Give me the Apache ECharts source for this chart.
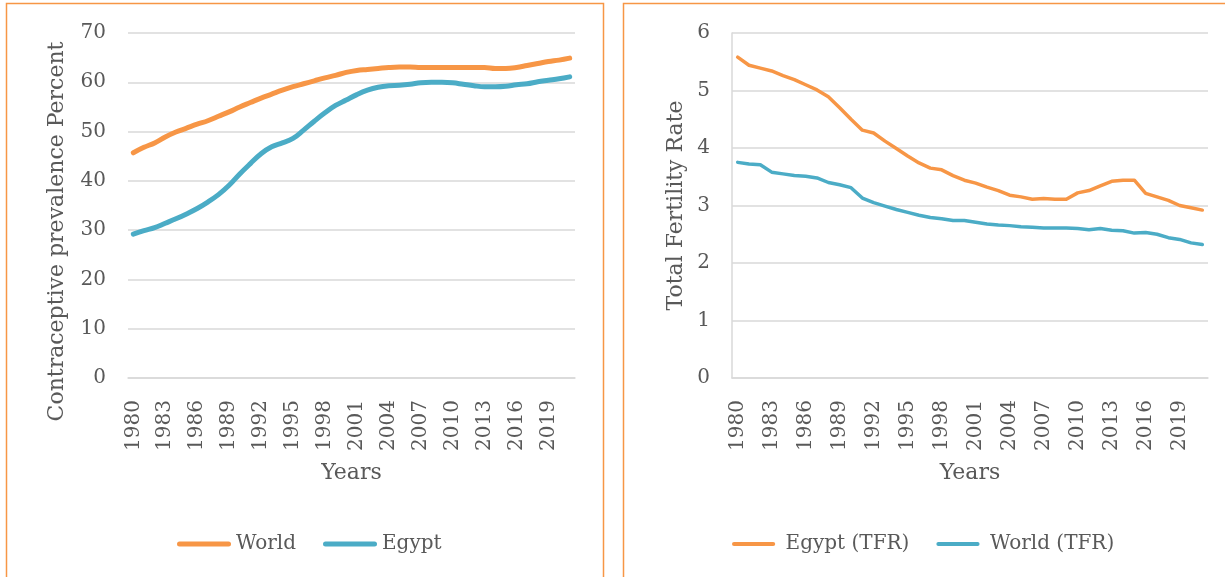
<!DOCTYPE html>
<html>
<head>
<meta charset="utf-8">
<script src="https://cdn.jsdelivr.net/npm/echarts@6/dist/echarts.min.js"></script>
<style>
html,body{margin:0;padding:0;background:#fff;}
#c{width:1225px;height:577px;}
</style>
</head>
<body>
<div id="c"></div>
<script>
var years = [];
for (var y = 1980; y <= 2021; y++) years.push(String(y));

var worldCPR = [45.7,46.8,47.7,48.9,49.9,50.7,51.5,52.2,53.1,54.0,55.0,55.9,56.8,57.6,58.4,59.1,59.7,60.3,60.9,61.4,62.0,62.4,62.6,62.8,63.0,63.1,63.1,63.0,63.0,63.0,63.0,63.0,63.0,63.0,62.8,62.8,63.0,63.4,63.8,64.2,64.5,64.9];
var egyptCPR = [29.2,29.9,30.5,31.4,32.3,33.3,34.4,35.7,37.2,39.1,41.4,43.5,45.5,46.9,47.7,48.6,50.3,52.1,53.8,55.3,56.4,57.5,58.4,59.0,59.3,59.4,59.6,59.9,60.0,60.0,59.9,59.6,59.3,59.1,59.1,59.2,59.5,59.7,60.1,60.4,60.7,61.1];
var egyptTFR = [5.58,5.44,5.39,5.34,5.26,5.19,5.10,5.01,4.89,4.70,4.50,4.31,4.26,4.12,3.99,3.86,3.74,3.65,3.62,3.52,3.44,3.39,3.32,3.26,3.18,3.15,3.11,3.12,3.11,3.11,3.22,3.26,3.34,3.42,3.44,3.44,3.21,3.15,3.09,3.00,2.96,2.92];
var worldTFR = [3.75,3.72,3.71,3.58,3.55,3.52,3.51,3.48,3.40,3.36,3.31,3.13,3.05,2.99,2.93,2.88,2.83,2.79,2.77,2.74,2.74,2.71,2.68,2.66,2.65,2.63,2.62,2.61,2.61,2.61,2.60,2.58,2.60,2.57,2.56,2.52,2.53,2.50,2.44,2.41,2.35,2.32];

var ORANGE = '#F79646';
var BLUE = '#4BACC6';
var TEXT = '#595959';
var GRID = '#D9D9D9';
var FONT = 'DejaVu Serif';

var capsule = 'path://M2.5,0H51.5A2.5,2.5,0,0,1,51.5,5H2.5A2.5,2.5,0,0,1,2.5,0Z';

function xAxisCfg(gi) {
  return {
    type: 'category', gridIndex: gi, data: years, boundaryGap: true,
    name: 'Years', nameLocation: 'middle', nameGap: 84,
    nameTextStyle: {color: TEXT, fontFamily: FONT, fontSize: 22},
    axisLine: {show: true, lineStyle: {color: GRID, width: 1.5}},
    axisTick: {show: false},
    axisLabel: {interval: 2, rotate: 90, margin: 22, color: TEXT, fontFamily: FONT, fontSize: 20}
  };
}

var chart = echarts.init(document.getElementById('c'), null, {renderer: 'canvas'});
chart.setOption({
  animation: false,
  backgroundColor: '#fff',
  graphic: [
    {type: 'rect', shape: {x: 6.5, y: 3.5, width: 597, height: 620}, style: {fill: 'none', stroke: ORANGE, lineWidth: 1.5}, silent: true, z: -10},
    {type: 'rect', shape: {x: 623.5, y: 3.5, width: 700, height: 620}, style: {fill: 'none', stroke: ORANGE, lineWidth: 1.5}, silent: true, z: -10}
  ],
  grid: [
    {left: 128, right: 650, top: 33, bottom: 199},
    {left: 732, right: 17, top: 33, bottom: 199}
  ],
  legend: [
    {data: ['World', 'Egypt'], left: 172, top: 529, itemWidth: 54, itemHeight: 5, itemGap: 27, icon: capsule,
     textStyle: {color: TEXT, fontFamily: FONT, fontSize: 20}},
    {data: ['Egypt (TFR)', 'World (TFR)'], left: 727, top: 529, itemWidth: 54, itemHeight: 4, itemGap: 27, icon: capsule,
     textStyle: {color: TEXT, fontFamily: FONT, fontSize: 20}}
  ],
  xAxis: [xAxisCfg(0), xAxisCfg(1)],
  yAxis: [
    {type: 'value', gridIndex: 0, min: 0, max: 70, interval: 10,
     name: 'Contraceptive prevalence Percent', nameLocation: 'middle', nameGap: 60,
     nameTextStyle: {color: TEXT, fontFamily: FONT, fontSize: 22, padding: [0, 52, 0, 0]},
     axisLine: {show: false}, axisTick: {show: false},
     axisLabel: {margin: 22, color: TEXT, fontFamily: FONT, fontSize: 20},
     splitLine: {lineStyle: {color: GRID, width: 1.5}}},
    {type: 'value', gridIndex: 1, min: 0, max: 6, interval: 1,
     name: 'Total Fertility Rate', nameLocation: 'middle', nameGap: 45,
     nameTextStyle: {color: TEXT, fontFamily: FONT, fontSize: 22},
     axisLine: {show: true, lineStyle: {color: GRID, width: 1.5}}, axisTick: {show: false},
     axisLabel: {margin: 22, color: TEXT, fontFamily: FONT, fontSize: 20},
     splitLine: {lineStyle: {color: GRID, width: 1.5}}}
  ],
  series: [
    {name: 'World', type: 'line', xAxisIndex: 0, yAxisIndex: 0, data: worldCPR, smooth: 0.4, showSymbol: false,
     itemStyle: {color: ORANGE}, lineStyle: {color: ORANGE, width: 5, cap: 'round'}},
    {name: 'Egypt', type: 'line', xAxisIndex: 0, yAxisIndex: 0, data: egyptCPR, smooth: 0.4, showSymbol: false,
     itemStyle: {color: BLUE}, lineStyle: {color: BLUE, width: 5, cap: 'round'}},
    {name: 'Egypt (TFR)', type: 'line', xAxisIndex: 1, yAxisIndex: 1, data: egyptTFR, showSymbol: false,
     itemStyle: {color: ORANGE}, lineStyle: {color: ORANGE, width: 3.5, cap: 'round', join: 'round'}},
    {name: 'World (TFR)', type: 'line', xAxisIndex: 1, yAxisIndex: 1, data: worldTFR, showSymbol: false,
     itemStyle: {color: BLUE}, lineStyle: {color: BLUE, width: 3.5, cap: 'round', join: 'round'}}
  ]
});
</script>
</body>
</html>
